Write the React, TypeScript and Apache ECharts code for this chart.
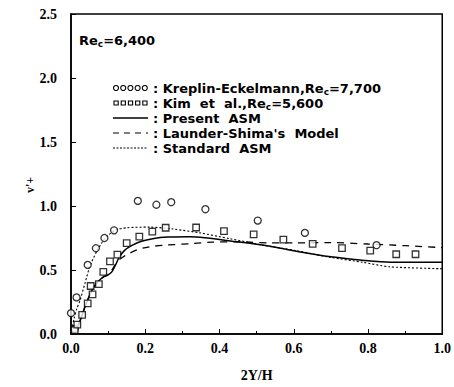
import React, { useEffect, useRef } from "react";
import * as echarts from "echarts";

const xTicks = [0, 0.2, 0.4, 0.6, 0.8, 1.0];
const yTicks = [0, 0.5, 1.0, 1.5, 2.0, 2.5];

const kreplin: [number, number][] = [
  [0.0, 0.163], [0.01, 0.04], [0.015, 0.286], [0.045, 0.54], [0.067, 0.67], [0.09, 0.75],
  [0.116, 0.81], [0.18, 1.04], [0.23, 1.01], [0.27, 1.03], [0.362, 0.975],
  [0.503, 0.886], [0.63, 0.79], [0.823, 0.694],
];

const kim: [number, number][] = [
  [0.01, 0.03], [0.017, 0.074], [0.03, 0.15], [0.045, 0.24], [0.058, 0.31], [0.053, 0.375],
  [0.075, 0.39], [0.087, 0.485], [0.105, 0.567], [0.125, 0.62], [0.15, 0.71],
  [0.184, 0.76], [0.219, 0.8], [0.255, 0.83], [0.337, 0.832], [0.412, 0.804],
  [0.492, 0.779], [0.572, 0.738], [0.651, 0.704], [0.73, 0.671], [0.806, 0.651],
  [0.876, 0.623], [0.928, 0.623],
];

const presentASM: [number, number][] = [
  [0, 0], [0.01, 0.02], [0.02, 0.07], [0.03, 0.15], [0.04, 0.23], [0.05, 0.3],
  [0.06, 0.36], [0.07, 0.4], [0.08, 0.43], [0.09, 0.45], [0.1, 0.462], [0.11, 0.485],
  [0.12, 0.54], [0.13, 0.6], [0.145, 0.655], [0.163, 0.69], [0.19, 0.725],
  [0.22, 0.745], [0.26, 0.757], [0.32, 0.76], [0.36, 0.752], [0.43, 0.727],
  [0.52, 0.694], [0.61, 0.645], [0.7, 0.603], [0.79, 0.575], [0.86, 0.561], [1.0, 0.561],
];

const launderShima: [number, number][] = [
  [0, 0], [0.01, 0.02], [0.02, 0.07], [0.03, 0.15], [0.04, 0.23], [0.05, 0.3],
  [0.06, 0.36], [0.07, 0.4], [0.08, 0.43], [0.09, 0.45], [0.1, 0.465], [0.11, 0.5],
  [0.12, 0.545], [0.132, 0.585], [0.15, 0.62], [0.185, 0.665], [0.22, 0.685],
  [0.257, 0.695], [0.32, 0.705], [0.38, 0.718], [0.45, 0.72], [0.54, 0.712],
  [0.6, 0.712], [0.7, 0.714], [0.8, 0.703], [0.9, 0.69], [1.0, 0.675],
];

const standardASM: [number, number][] = [
  [0, 0], [0.004, 0.06], [0.008, 0.12], [0.016, 0.2], [0.024, 0.26], [0.038, 0.4],
  [0.051, 0.53], [0.069, 0.643], [0.091, 0.745], [0.118, 0.81], [0.15, 0.83],
  [0.212, 0.835], [0.275, 0.82], [0.347, 0.79], [0.427, 0.745], [0.517, 0.694],
  [0.607, 0.651], [0.696, 0.6], [0.786, 0.56], [0.858, 0.525], [1.0, 0.51],
];

const legendLabels = [
  "Kreplin-Eckelmann,Re{s|c}=7,700",
  "Kim  et  al.,Re{s|c}=5,600",
  "Present  ASM",
  "Launder-Shima's  Model",
  "Standard  ASM",
];

export default function App() {
  const ref = useRef<HTMLDivElement>(null);
  useEffect(() => {
    document.body.style.margin = "0";
    if (!ref.current) return;
    const chart = echarts.init(ref.current, null, { renderer: "svg" });
    const font = "DejaVu Sans";
    const rowY0 = 88;
    const rowDY = 15;
    const symX = 113;
    const textX = 153;
    const graphics: any[] = [];
    for (let i = 0; i < 5; i++) {
      graphics.push({
        type: "circle",
        shape: { cx: symX + 3 + i * 7.2, cy: rowY0, r: 2.5 },
        style: { fill: "none", stroke: "#000", lineWidth: 1.1 },
      });
      graphics.push({
        type: "rect",
        shape: { x: symX + 1 + i * 7.2, y: rowY0 + rowDY - 2, width: 4.2, height: 4 },
        style: { fill: "none", stroke: "#000", lineWidth: 1.1 },
      });
    }
    const lineStyles = [
      { lineWidth: 1.5, lineDash: null },
      { lineWidth: 1.2, lineDash: [6, 5] },
      { lineWidth: 1, lineDash: [2, 1.5] },
    ];
    lineStyles.forEach((ls, i) => {
      graphics.push({
        type: "line",
        shape: { x1: symX, y1: rowY0 + rowDY * (2 + i), x2: symX + 35, y2: rowY0 + rowDY * (2 + i) },
        style: { stroke: "#000", lineWidth: ls.lineWidth, lineDash: ls.lineDash },
      });
    });
    legendLabels.forEach((t, i) => {
      graphics.push({
        type: "text",
        x: textX,
        y: rowY0 + rowDY * i,
        style: {
          text: ": " + t,
          font: `bold 13px '${font}'`,
          fill: "#000",
          verticalAlign: "middle",
          rich: {
            s: { fontSize: 9, fontWeight: "bold", fontFamily: font, padding: [7, 0, 0, 0] },
          },
        },
      });
    });
    graphics.push({
      type: "text",
      x: 79,
      y: 40,
      style: {
        text: "Re{s|c}=6,400",
        font: `bold 13px '${font}'`,
        fill: "#000",
        verticalAlign: "middle",
        rich: {
          s: { fontSize: 9, fontWeight: "bold", fontFamily: font, padding: [7, 0, 0, 0] },
        },
      },
    });
    graphics.push({
      type: "text",
      x: 30,
      y: 185,
      rotation: Math.PI / 2,
      style: {
        text: "v'+",
        font: `bold 12px 'Liberation Serif'`,
        fill: "#000",
        align: "center",
        verticalAlign: "middle",
      },
    });

    const mk = (name: string, data: [number, number][], width: number, type: any) => ({
      name,
      type: "line",
      data,
      showSymbol: false,
      symbol: "none",
      smooth: 0.25,
      lineStyle: { color: "#000", width, type },
      z: 3,
    });

    chart.setOption({
      animation: false,
      backgroundColor: "#fff",
      grid: { left: 71, right: 11, top: 14, bottom: 48, show: true, borderColor: "#000", borderWidth: 1.5, backgroundColor: "transparent" },
      xAxis: {
        type: "value",
        min: xTicks[0],
        max: xTicks[xTicks.length - 1],
        interval: 0.2,
        name: "2Y/H",
        nameLocation: "middle",
        nameGap: 34,
        nameTextStyle: { fontFamily: "Liberation Serif", fontWeight: "bold", fontSize: 14, color: "#000" },
        axisLine: { lineStyle: { color: "#000", width: 1.5 } },
        axisTick: { inside: true, length: 5, lineStyle: { color: "#000" } },
        minorTick: { show: true, splitNumber: 2, length: 3, lineStyle: { color: "#000" } },
        splitLine: { show: false },
        axisLabel: {
          fontFamily: "Liberation Serif",
          fontWeight: "bold",
          fontSize: 14,
          color: "#000",
          margin: 7,
          formatter: (v: number) => v.toFixed(1),
        },
      },
      yAxis: {
        type: "value",
        min: yTicks[0],
        max: yTicks[yTicks.length - 1],
        interval: 0.5,
        axisLine: { lineStyle: { color: "#000", width: 1.5 } },
        axisTick: { inside: true, length: 5, lineStyle: { color: "#000" } },
        splitLine: { show: false },
        axisLabel: {
          fontFamily: "Liberation Serif",
          fontWeight: "bold",
          fontSize: 14,
          color: "#000",
          margin: 14,
          formatter: (v: number) => v.toFixed(1),
        },
      },
      series: [
        {
          name: "Kreplin-Eckelmann",
          type: "scatter",
          data: kreplin,
          symbol: "circle",
          symbolSize: 7,
          itemStyle: { color: "#fff", borderColor: "#000", borderWidth: 1.3 },
          z: 4,
        },
        {
          name: "Kim et al.",
          type: "scatter",
          data: kim,
          symbol: "rect",
          symbolSize: 6.5,
          itemStyle: { color: "#fff", borderColor: "#000", borderWidth: 1.3 },
          z: 4,
        },
        mk("Present ASM", presentASM, 1.5, "solid"),
        mk("Launder-Shima's Model", launderShima, 1.3, [7, 6]),
        mk("Standard ASM", standardASM, 1.1, [2, 2]),
      ],
      graphic: graphics,
    });
    return () => chart.dispose();
  }, []);
  return <div ref={ref} style={{ width: 454, height: 387 }} />;
}
